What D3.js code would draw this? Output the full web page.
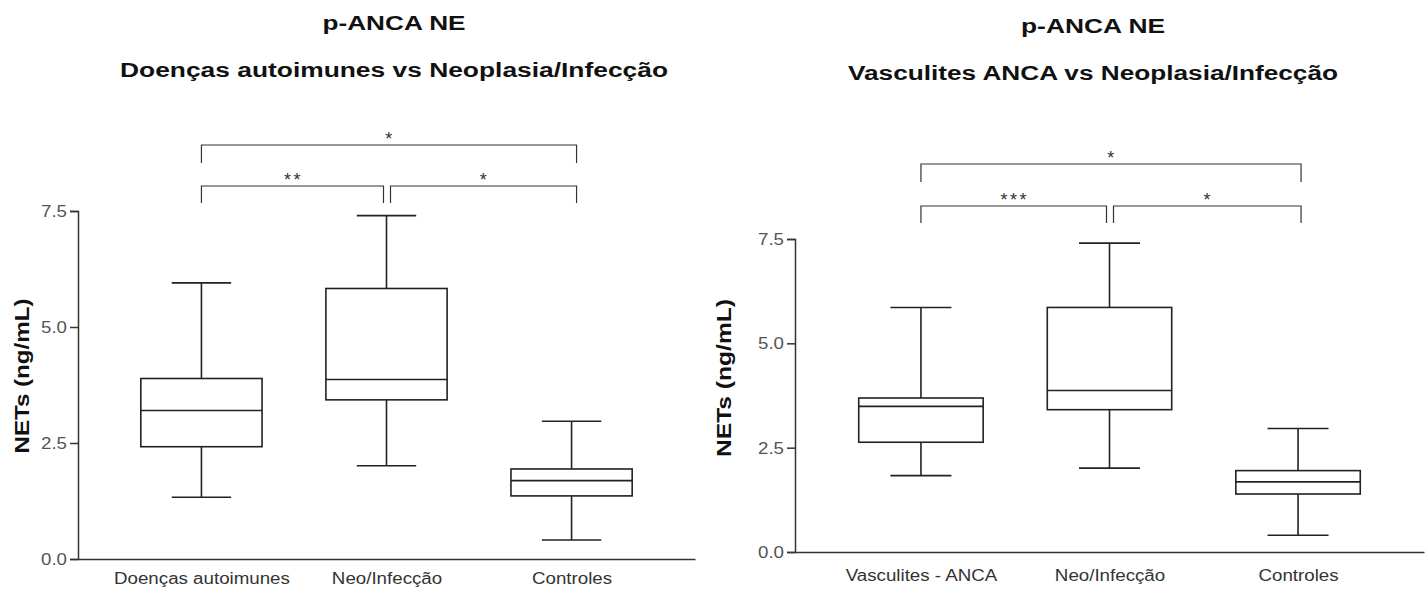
<!DOCTYPE html>
<html>
<head>
<meta charset="utf-8">
<script src="https://cdn.jsdelivr.net/npm/d3@7"></script>
<style>
  body { margin: 0; background: #fff; }
  svg { display: block; font-family: "Liberation Sans", Arial, sans-serif; }
</style>
</head>
<body>
<svg id="chart" width="1427" height="589"></svg>
<script>
// values (NETs ng/mL)
var categoriesA = ["Doenças autoimunes", "Neo/Infecção", "Controles"];
var minA = [1.33, 2.01, 0.41];
var q1A = [2.42, 3.43, 1.36];
var medA = [3.20, 3.87, 1.69];
var q3A = [3.89, 5.83, 1.94];
var maxA = [5.95, 7.40, 2.97];

var categoriesB = ["Vasculites - ANCA", "Neo/Infecção", "Controles"];
var minB = [1.83, 2.01, 0.40];
var q1B = [2.63, 3.41, 1.39];
var medB = [3.49, 3.87, 1.68];
var q3B = [3.69, 5.86, 1.95];
var maxB = [5.86, 7.40, 2.96];

var yTicks = [0, 2.5, 5, 7.5];
var yTickLabels = ["0.0", "2.5", "5.0", "7.5"];

// [from, to, stars, level]  level 0 = lower row
var compsA = [[0, 1, "**", 0], [1, 2, "*", 0], [0, 2, "*", 1]];
var compsB = [[0, 1, "***", 0], [1, 2, "*", 0], [0, 2, "*", 1]];

var svg = d3.select("#chart");

// the source picture is stretched sideways, so widen text to match
function stretch(sel, k) {
  sel.each(function() {
    var w = this.getComputedTextLength();
    d3.select(this).attr("textLength", w * k).attr("lengthAdjust", "spacingAndGlyphs");
  });
}

function drawPanel(cfg) {
  var g = svg.append("g");
  var n = cfg.categories.length;
  var rows = cfg.categories.map(function(c, i) {
    return { cat: c, min: cfg.min[i], q1: cfg.q1[i], med: cfg.med[i], q3: cfg.q3[i], max: cfg.max[i] };
  });

  var y = d3.scaleLinear().domain([0, 7.5]).range([cfg.y0, cfg.y1]);
  var x = d3.scalePoint().domain(cfg.categories).range([cfg.x0, cfg.x1]).padding(cfg.pad);
  var step = x.step();
  var bw = step * cfg.boxFrac;
  var cw = bw * 0.49;

  // titles
  g.append("text").attr("x", cfg.cx).attr("y", cfg.t1y).attr("text-anchor", "middle")
    .attr("font-size", "20px").attr("font-weight", "bold").attr("fill", "#111")
    .attr("textLength", cfg.t1w).attr("lengthAdjust", "spacingAndGlyphs").text("p-ANCA NE");
  g.append("text").attr("x", cfg.cx).attr("y", cfg.t2y).attr("text-anchor", "middle")
    .attr("font-size", "20px").attr("font-weight", "bold").attr("fill", "#111")
    .attr("textLength", cfg.t2w).attr("lengthAdjust", "spacingAndGlyphs").text(cfg.subtitle);

  // y axis
  var yAxis = d3.axisLeft(y).tickValues(yTicks)
    .tickFormat(function(d, i) { return yTickLabels[i]; })
    .tickSizeOuter(0).tickSize(8).tickPadding(3);
  var ya = g.append("g").attr("transform", "translate(" + cfg.x0 + ",0)").call(yAxis);
  ya.select(".domain").attr("stroke", "#333").attr("stroke-width", 1.5);
  ya.selectAll(".tick line").attr("stroke", "#333").attr("stroke-width", 1.5);
  ya.selectAll(".tick text").attr("font-size", "17px").attr("fill", "#555")
    .attr("font-family", "'Liberation Sans', Arial, sans-serif").call(stretch, 1.1);

  // x axis
  var xAxis = d3.axisBottom(x).tickSize(0).tickSizeOuter(0).tickPadding(cfg.xPad);
  var xa = g.append("g").attr("transform", "translate(0," + cfg.y0 + ")").call(xAxis);
  xa.select(".domain").attr("stroke", "#333").attr("stroke-width", 1.5);
  xa.selectAll(".tick text").attr("font-size", "16px").attr("fill", "#333")
    .attr("font-family", "'Liberation Sans', Arial, sans-serif").call(stretch, 1.17);

  // y label
  g.append("text")
    .attr("transform", "translate(" + cfg.ylx + "," + cfg.yly + ") rotate(-90)")
    .attr("text-anchor", "middle").attr("dy", "0.35em")
    .attr("font-size", "20px").attr("font-weight", "bold").attr("fill", "#111")
    .attr("textLength", cfg.ylw).attr("lengthAdjust", "spacingAndGlyphs")
    .text("NETs (ng/mL)");

  // boxes
  var box = g.append("g").selectAll("g").data(rows).enter().append("g")
    .attr("stroke", "#222").attr("stroke-width", 1.6).attr("fill", "none");
  box.append("line")
    .attr("x1", function(d) { return x(d.cat); }).attr("x2", function(d) { return x(d.cat); })
    .attr("y1", function(d) { return y(d.max); }).attr("y2", function(d) { return y(d.q3); });
  box.append("line")
    .attr("x1", function(d) { return x(d.cat); }).attr("x2", function(d) { return x(d.cat); })
    .attr("y1", function(d) { return y(d.q1); }).attr("y2", function(d) { return y(d.min); });
  box.append("line")
    .attr("x1", function(d) { return x(d.cat) - cw / 2; }).attr("x2", function(d) { return x(d.cat) + cw / 2; })
    .attr("y1", function(d) { return y(d.max); }).attr("y2", function(d) { return y(d.max); });
  box.append("line")
    .attr("x1", function(d) { return x(d.cat) - cw / 2; }).attr("x2", function(d) { return x(d.cat) + cw / 2; })
    .attr("y1", function(d) { return y(d.min); }).attr("y2", function(d) { return y(d.min); });
  box.append("rect")
    .attr("x", function(d) { return x(d.cat) - bw / 2; })
    .attr("width", bw)
    .attr("y", function(d) { return y(d.q3); })
    .attr("height", function(d) { return y(d.q1) - y(d.q3); })
    .attr("fill", "#fff");
  box.append("line")
    .attr("x1", function(d) { return x(d.cat) - bw / 2; }).attr("x2", function(d) { return x(d.cat) + bw / 2; })
    .attr("y1", function(d) { return y(d.med); }).attr("y2", function(d) { return y(d.med); });

  // significance brackets
  var br = g.append("g").selectAll("g").data(cfg.comps).enter().append("g");
  function bx(d, end) {
    var i = end ? d[1] : d[0];
    var xx = x(cfg.categories[i]);
    if (end && d[1] === 1) xx -= 3;
    if (!end && d[0] === 1) xx += 4;
    if (end && d[1] === n - 1) xx += cfg.rShift;
    return xx;
  }
  br.append("path")
    .attr("d", function(d) {
      var top = cfg.brTop[d[3]], bot = cfg.brBot[d[3]];
      var a = bx(d, false), b = bx(d, true);
      return "M" + a + "," + bot + "V" + top + "H" + b + "V" + bot;
    })
    .attr("fill", "none").attr("stroke", "#333").attr("stroke-width", 1.2);
  br.append("text")
    .attr("x", function(d) { return (bx(d, false) + bx(d, true)) / 2 + 1; })
    .attr("y", function(d) { return cfg.brTop[d[3]]; })
    .attr("text-anchor", "middle").attr("font-size", "18px").attr("fill", "#333")
    .attr("letter-spacing", "2.5px")
    .text(function(d) { return d[2]; });
}

drawPanel({
  categories: categoriesA, min: minA, q1: q1A, med: medA, q3: q3A, max: maxA,
  comps: compsA, subtitle: "Doenças autoimunes vs Neoplasia/Infecção",
  cx: 394, t1y: 30, t2y: 77, t1w: 143, t2w: 548,
  x0: 78, x1: 695, pad: 0.667, boxFrac: 0.655, xPad: 14,
  y0: 559, y1: 211, ylx: 22, yly: 376, ylw: 155,
  brTop: [186, 145], brBot: [203, 163], rShift: 5
});

drawPanel({
  categories: categoriesB, min: minB, q1: q1B, med: medB, q3: q3B, max: maxB,
  comps: compsB, subtitle: "Vasculites ANCA vs Neoplasia/Infecção",
  cx: 1093, t1y: 33, t2y: 80, t1w: 144, t2w: 490,
  x0: 795, x1: 1424, pad: 0.668, boxFrac: 0.66, xPad: 18,
  y0: 552, y1: 239, ylx: 724, yly: 378, ylw: 158,
  brTop: [206, 164], brBot: [223, 182], rShift: 3
});
</script>
</body>
</html>
